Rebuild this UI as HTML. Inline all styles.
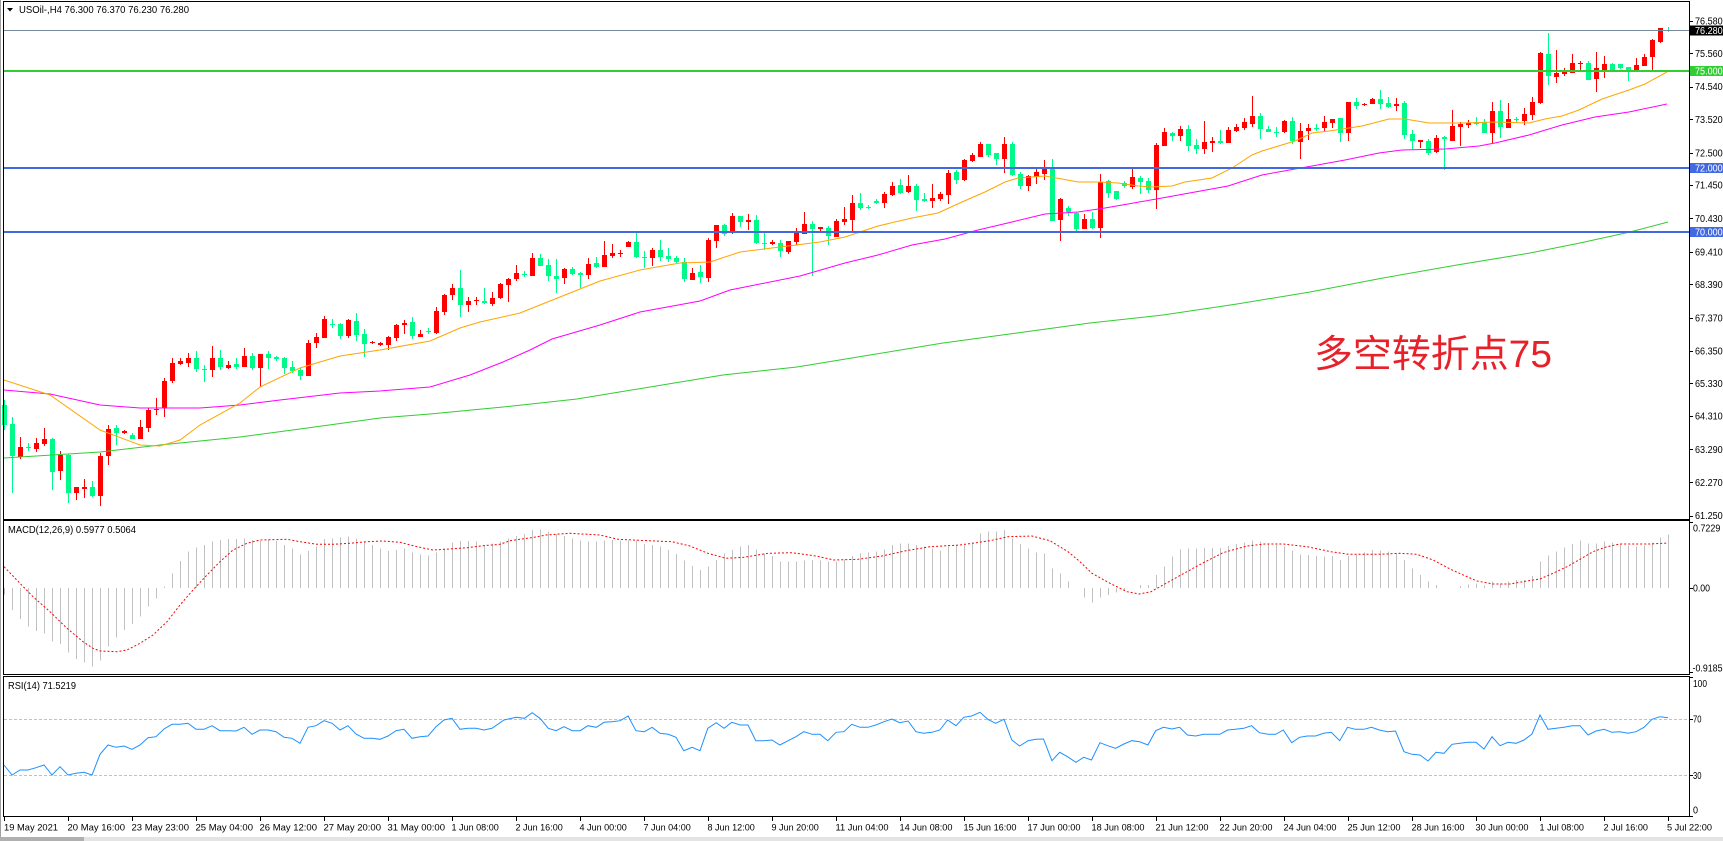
<!DOCTYPE html>
<html><head><meta charset="utf-8">
<style>
html,body{margin:0;padding:0;background:#fff;overflow:hidden;}
svg{display:block;}
text{font-family:"Liberation Sans",Arial,sans-serif;fill:#000;}
</style></head><body>
<svg id="c" width="1723" height="841" viewBox="0 0 1723 841" xmlns="http://www.w3.org/2000/svg">
<rect width="1723" height="841" fill="#fff"/>
<g id="hist" shape-rendering="crispEdges"></g>
<g id="cand" shape-rendering="crispEdges"></g>
<g id="lines"></g>
<!-- horizontal levels -->
<g shape-rendering="crispEdges">
<rect x="4" y="30" width="1685" height="1" fill="#778899"/>
<rect x="4" y="70" width="1685" height="2" fill="#32cd32"/>
<rect x="4" y="167" width="1685" height="2" fill="#4169e1"/>
<rect x="4" y="231" width="1685" height="2" fill="#4169e1"/>
<!-- frames -->
<rect x="3.5" y="1.5" width="1686" height="518" fill="none" stroke="#000"/>
<rect x="3.5" y="520.5" width="1686" height="154" fill="none" stroke="#000"/>
<rect x="3.5" y="676.5" width="1686" height="140" fill="none" stroke="#000"/>
<rect x="0" y="0" width="1" height="841" fill="#a0a0a0"/>
<rect x="0" y="837" width="1723" height="4" fill="#e4e4e4"/>
<rect x="0" y="837" width="84" height="4" fill="#b0b0b0"/>
</g>
<g id="ticks" shape-rendering="crispEdges"></g>
<!-- header -->
<polygon points="7,8 13,8 10,11.5" fill="#000"/>
<text x="19" y="13" font-size="10" textLength="170" lengthAdjust="spacingAndGlyphs">USOil-,H4  76.300 76.370 76.230 76.280</text>
<text x="8" y="533" font-size="10" textLength="128" lengthAdjust="spacingAndGlyphs">MACD(12,26,9) 0.5977 0.5064</text>
<text x="8" y="689" font-size="10" textLength="68" lengthAdjust="spacingAndGlyphs">RSI(14) 71.5219</text>
<!-- price axis -->
<g font-size="10">
<text x="1695" y="24.5" textLength="27.7" lengthAdjust="spacingAndGlyphs">76.580</text>
<text x="1695" y="57" textLength="27.7" lengthAdjust="spacingAndGlyphs">75.560</text>
<text x="1695" y="90" textLength="27.7" lengthAdjust="spacingAndGlyphs">74.540</text>
<text x="1695" y="123" textLength="27.7" lengthAdjust="spacingAndGlyphs">73.520</text>
<text x="1695" y="156.5" textLength="27.7" lengthAdjust="spacingAndGlyphs">72.500</text>
<text x="1695" y="188.5" textLength="27.7" lengthAdjust="spacingAndGlyphs">71.450</text>
<text x="1695" y="222" textLength="27.7" lengthAdjust="spacingAndGlyphs">70.430</text>
<text x="1695" y="255.5" textLength="27.7" lengthAdjust="spacingAndGlyphs">69.410</text>
<text x="1695" y="288" textLength="27.7" lengthAdjust="spacingAndGlyphs">68.390</text>
<text x="1695" y="321.5" textLength="27.7" lengthAdjust="spacingAndGlyphs">67.370</text>
<text x="1695" y="354.5" textLength="27.7" lengthAdjust="spacingAndGlyphs">66.350</text>
<text x="1695" y="387" textLength="27.7" lengthAdjust="spacingAndGlyphs">65.330</text>
<text x="1695" y="419.5" textLength="27.7" lengthAdjust="spacingAndGlyphs">64.310</text>
<text x="1695" y="453" textLength="27.7" lengthAdjust="spacingAndGlyphs">63.290</text>
<text x="1695" y="486" textLength="27.7" lengthAdjust="spacingAndGlyphs">62.270</text>
<text x="1695" y="519" textLength="27.7" lengthAdjust="spacingAndGlyphs">61.250</text>
</g>
<g shape-rendering="crispEdges">
<rect x="1690" y="25.5" width="33" height="10" fill="#000"/>
<rect x="1690" y="66" width="33" height="10" fill="#32cd32"/>
<rect x="1690" y="163" width="33" height="10" fill="#4169e1"/>
<rect x="1690" y="227" width="33" height="10" fill="#4169e1"/>
</g>
<g font-size="10">
<text x="1695" y="34" textLength="27.7" lengthAdjust="spacingAndGlyphs" style="fill:#fff">76.280</text>
<text x="1695" y="74.5" textLength="27.7" lengthAdjust="spacingAndGlyphs" style="fill:#fff">75.000</text>
<text x="1695" y="171.5" textLength="27.7" lengthAdjust="spacingAndGlyphs" style="fill:#fff">72.000</text>
<text x="1695" y="235.5" textLength="27.7" lengthAdjust="spacingAndGlyphs" style="fill:#fff">70.000</text>
</g>
<!-- indicator axes -->
<g font-size="10">
<text x="1693" y="531.5" textLength="27.3" lengthAdjust="spacingAndGlyphs">0.7229</text>
<text x="1693" y="591.5" textLength="17" lengthAdjust="spacingAndGlyphs">0.00</text>
<text x="1692.5" y="671.5" textLength="30" lengthAdjust="spacingAndGlyphs">-0.9185</text>
<text x="1693" y="687" textLength="14" lengthAdjust="spacingAndGlyphs">100</text>
<text x="1693" y="722.5" textLength="8.5" lengthAdjust="spacingAndGlyphs">70</text>
<text x="1693" y="779" textLength="8.5" lengthAdjust="spacingAndGlyphs">30</text>
<text x="1693" y="813.5" textLength="5" lengthAdjust="spacingAndGlyphs">0</text>
</g>
<!-- RSI levels -->
<line x1="4" y1="719.5" x2="1689" y2="719.5" stroke="#c0c0c0" stroke-dasharray="3,2"/>
<line x1="4" y1="775.5" x2="1689" y2="775.5" stroke="#c0c0c0" stroke-dasharray="3,2"/>
<g id="ind"></g>
<!-- time axis -->
<g font-size="9.5">
<text x="4" y="830.5" textLength="54" lengthAdjust="spacingAndGlyphs">19 May 2021</text>
<text x="67.5" y="830.5" textLength="57.5" lengthAdjust="spacingAndGlyphs">20 May 16:00</text>
<text x="131.5" y="830.5" textLength="57.5" lengthAdjust="spacingAndGlyphs">23 May 23:00</text>
<text x="195.5" y="830.5" textLength="57.5" lengthAdjust="spacingAndGlyphs">25 May 04:00</text>
<text x="259.5" y="830.5" textLength="57.5" lengthAdjust="spacingAndGlyphs">26 May 12:00</text>
<text x="323.5" y="830.5" textLength="57.5" lengthAdjust="spacingAndGlyphs">27 May 20:00</text>
<text x="387.5" y="830.5" textLength="57.5" lengthAdjust="spacingAndGlyphs">31 May 00:00</text>
<text x="451.5" y="830.5" textLength="47.3" lengthAdjust="spacingAndGlyphs">1 Jun 08:00</text>
<text x="515.5" y="830.5" textLength="47.3" lengthAdjust="spacingAndGlyphs">2 Jun 16:00</text>
<text x="579.5" y="830.5" textLength="47.3" lengthAdjust="spacingAndGlyphs">4 Jun 00:00</text>
<text x="643.5" y="830.5" textLength="47.3" lengthAdjust="spacingAndGlyphs">7 Jun 04:00</text>
<text x="707.5" y="830.5" textLength="47.3" lengthAdjust="spacingAndGlyphs">8 Jun 12:00</text>
<text x="771.5" y="830.5" textLength="47.3" lengthAdjust="spacingAndGlyphs">9 Jun 20:00</text>
<text x="835.5" y="830.5" textLength="53" lengthAdjust="spacingAndGlyphs">11 Jun 04:00</text>
<text x="899.5" y="830.5" textLength="53" lengthAdjust="spacingAndGlyphs">14 Jun 08:00</text>
<text x="963.5" y="830.5" textLength="53" lengthAdjust="spacingAndGlyphs">15 Jun 16:00</text>
<text x="1027.5" y="830.5" textLength="53" lengthAdjust="spacingAndGlyphs">17 Jun 00:00</text>
<text x="1091.5" y="830.5" textLength="53" lengthAdjust="spacingAndGlyphs">18 Jun 08:00</text>
<text x="1155.5" y="830.5" textLength="53" lengthAdjust="spacingAndGlyphs">21 Jun 12:00</text>
<text x="1219.5" y="830.5" textLength="53" lengthAdjust="spacingAndGlyphs">22 Jun 20:00</text>
<text x="1283.5" y="830.5" textLength="53" lengthAdjust="spacingAndGlyphs">24 Jun 04:00</text>
<text x="1347.5" y="830.5" textLength="53" lengthAdjust="spacingAndGlyphs">25 Jun 12:00</text>
<text x="1411.5" y="830.5" textLength="53" lengthAdjust="spacingAndGlyphs">28 Jun 16:00</text>
<text x="1475.5" y="830.5" textLength="53" lengthAdjust="spacingAndGlyphs">30 Jun 00:00</text>
<text x="1539.5" y="830.5" textLength="44.5" lengthAdjust="spacingAndGlyphs">1 Jul 08:00</text>
<text x="1603.5" y="830.5" textLength="44.5" lengthAdjust="spacingAndGlyphs">2 Jul 16:00</text>
<text x="1667" y="830.5" textLength="45" lengthAdjust="spacingAndGlyphs">5 Jul 22:00</text>
</g>
<text x="1314" y="367" font-size="38" textLength="238" lengthAdjust="spacingAndGlyphs" style="font-family:'Liberation Sans','Noto Sans CJK SC',sans-serif;fill:#e8202a">多空转折点75</text>
</svg>
<script>
(function(){
var NS="http://www.w3.org/2000/svg";
function el(t,a,p){var e=document.createElementNS(NS,t);for(var k in a)e.setAttribute(k,a[k]);p.appendChild(e);return e;}
var K=[
[1,405,425,400,430],[1,424,456,417,493],[0,447,457,437,459],[1,447,448,443,451],[0,443,449,438,452],
[0,439,444,428,446],[1,439,472,438,490],[0,455,471,451,480],[1,455,493,454,503],[0,487,493,487,500],
[0,487,489,479,498],[1,487,496,481,497],[0,456,496,453,506],[0,429,456,425,465],[1,428,433,425,445],
[0,431,433,430,434],[1,435,439,433,439],[0,427,439,420,439],[0,410,428,408,432],[0,409,410,398,415],
[0,381,408,378,417],[0,363,381,358,383],[0,361,364,358,365],[0,358,363,353,367],[1,358,369,351,372],
[1,369,370,365,382],[0,358,370,346,377],[1,358,367,350,370],[0,365,368,361,369],[1,364,367,358,369],
[0,356,367,348,367],[1,356,368,353,370],[0,354,368,354,387],[1,354,358,351,369],[1,357,359,356,361],
[1,358,368,357,374],[1,367,371,361,373],[1,370,376,368,380],[0,343,376,340,376],[0,337,343,333,348],
[0,319,338,316,338],[1,324,325,319,328],[1,324,336,323,339],[0,320,336,319,338],[1,321,335,313,341],
[1,334,344,329,357],[0,342,343,341,344],[0,343,345,342,346],[0,337,345,336,350],[0,325,338,324,341],
[0,323,325,320,334],[1,322,336,317,339],[0,334,337,330,337],[1,331,332,328,334],[0,311,333,307,334],
[0,295,312,294,315],[0,288,295,284,300],[1,288,305,270,317],[0,301,305,297,312],[0,300,301,297,305],
[1,301,303,288,304],[0,298,304,292,306],[0,284,298,283,299],[0,279,285,278,302],[0,273,279,265,281],
[1,274,275,271,277],[0,258,276,253,276],[1,258,266,254,266],[1,265,276,259,281],[1,276,279,259,293],
[0,269,278,268,284],[1,269,274,267,275],[1,273,275,272,288],[0,264,275,258,279],[1,263,267,257,268],
[0,255,267,241,267],[0,253,256,244,258],[0,253,254,250,257],[0,242,247,241,247],[1,242,257,233,258],
[1,257,258,251,268],[0,250,258,248,266],[1,250,257,240,261],[1,256,259,248,262],[1,258,262,256,263],
[1,262,279,258,282],[0,273,280,268,280],[1,272,277,265,283],[0,240,278,238,282],[0,225,241,225,248],
[1,225,234,224,236],[0,216,233,213,234],[1,216,222,216,227],[0,220,222,214,230],[1,220,243,215,244],
[1,243,244,233,250],[0,242,244,240,245],[1,243,251,240,257],[0,241,252,241,254],[0,232,242,228,245],
[0,224,234,212,234],[1,224,229,221,276],[0,227,229,227,231],[1,228,236,226,245],[0,221,237,219,237],
[0,219,222,207,225],[0,203,220,195,231],[1,203,208,193,210],[1,207,208,205,209],[1,201,203,199,204],
[0,194,203,192,208],[0,186,195,182,196],[1,185,193,179,194],[0,186,192,175,193],[1,186,200,184,211],
[1,199,201,193,202],[0,198,201,184,208],[0,194,199,192,201],[0,173,195,170,204],[1,172,180,170,184],
[0,160,180,159,181],[0,155,161,153,162],[0,144,157,142,157],[1,144,155,144,157],[1,153,159,153,165],
[0,144,159,137,173],[1,144,175,142,176],[1,174,186,172,189],[0,176,186,175,191],[0,172,177,169,184],
[0,168,174,160,180],[1,168,221,159,221],[0,199,220,198,241],[1,208,212,206,216],[1,213,229,212,231],
[0,219,229,214,229],[1,219,228,212,229],[0,182,228,174,238],[1,181,193,180,198],[1,191,199,191,200],
[1,183,186,181,188],[0,177,187,169,189],[1,178,182,176,194],[1,181,190,178,193],[0,145,190,143,209],
[0,132,146,128,146],[1,133,136,132,141],[0,129,136,126,141],[1,129,146,125,151],[1,145,149,139,154],
[0,142,149,121,154],[0,141,143,137,152],[1,141,143,130,144],[0,130,143,127,143],[0,127,131,124,132],
[0,122,128,118,130],[0,116,124,96,127],[1,116,129,113,139],[1,129,132,126,132],[1,132,133,127,137],
[0,121,132,120,133],[1,121,141,117,144],[0,131,142,123,159],[0,128,131,124,140],[1,128,129,124,131],
[0,122,128,116,132],[0,119,123,119,128],[1,118,133,118,142],[0,102,133,102,141],[1,102,106,98,109],
[0,104,105,103,106],[0,99,104,98,104],[1,99,104,90,109],[1,103,107,97,108],[0,104,106,98,111],
[1,103,135,101,139],[1,134,141,130,149],[0,140,142,140,148],[1,141,153,139,155],[0,138,152,135,153],
[1,137,139,136,170],[0,126,141,110,141],[0,124,127,122,146],[0,123,125,120,128],[1,122,124,117,125],
[1,122,133,119,133],[0,111,133,102,143],[1,111,127,100,138],[0,119,128,103,128],[1,119,120,117,122],
[0,114,121,108,125],[0,102,115,97,120],[0,53,103,52,104],[1,54,76,33,85],[0,73,77,50,83],
[0,71,74,68,76],[0,63,73,54,73],[0,63,64,61,70],[1,63,80,61,80],[0,68,79,52,92],
[0,64,71,56,78],[1,64,70,63,71],[1,64,68,64,69],[1,67,71,67,81],[0,65,71,58,71],
[0,57,66,54,66],[0,40,57,39,70],[0,28,42,28,43],[1,30,31,27,32]
];
var gc=document.getElementById('cand');
for(var i=0;i<K.length;i++){
 var d=K[i],xc=4+8*i,col=d[0]?'#00fa8a':'#ff0000';
 el('rect',{x:xc,y:d[3],width:1,height:Math.max(1,d[4]-d[3]),fill:col},gc);
 el('rect',{x:xc-2,y:d[1],width:5,height:Math.max(1,d[2]-d[1]),fill:col},gc);
}
var gl=document.getElementById('lines');
function pl(pts,col,extra,p){var a={points:pts,fill:'none',stroke:col,'stroke-width':1};for(var k in extra)a[k]=extra[k];el('polyline',a,p||gl);}
pl("4,458 100,452 160,445 240,437 300,429 380,418 430,414 503,407 577,399 650,387 723,375 797,367 870,355 943,343 1017,333 1090,323 1163,315 1237,304 1310,292 1383,278 1457,265 1530,253 1580,243 1630,232 1668,222","#32cd32");
pl("4,390 50,394 100,405 140,408 200,408 240,405 280,400 340,393 380,391 430,387 470,375 503,362 530,350 552,339 600,325 640,312 700,301 730,290 760,284 800,276 845,263 878,255 912,245 945,239 978,230 1012,222 1045,214 1078,212 1105,208 1128,204 1162,198 1195,192 1228,186 1262,175 1295,169 1312,166 1345,160 1379,153 1402,150 1445,149 1479,146 1495,143 1529,135 1562,125 1595,117 1629,112 1667,104","#ff00ff");
pl("4,380 50,395 100,430 140,445 160,446 180,440 200,425 240,403 260,387 300,368 340,356 380,350 430,341 460,328 480,322 520,313 560,297 600,281 640,270 680,263 710,262 740,252 780,247 820,242 845,237 878,226 912,218 938,213 962,202 985,192 1005,182 1018,178 1045,176 1062,179 1078,182 1098,182 1118,183 1138,186 1152,187 1172,186 1185,182 1212,178 1232,168 1252,155 1262,151 1295,141 1312,133 1329,131 1362,126 1389,119 1405,119 1429,123 1462,123 1495,122 1529,123 1545,119 1562,116 1579,110 1602,99 1629,90 1645,84 1667,72","#ffa500");
var H=[594.3,610,619,626.7,631,633.3,641.7,644,652.7,659,662.7,666.7,660.7,646.7,637.7,630,624,616.7,606.7,598.3,586.7,573.3,561,551.7,547.7,545,541.7,540,539,539,538.3,540,541,540,541,545,548.3,554.3,551,546.7,539,538.3,537.7,536.7,538.3,541.7,545,548.3,551,550,548.3,552.3,554.3,555.7,552.3,548.3,542.3,541,541,541.7,
545,543.3,541.7,538.3,536,534,530,529.3,531.7,534,536,538.3,540.7,541.7,541.7,540.7,540,540.7,540.7,540.7,544,545,546.7,550,554,560.7,566,570,566.7,560,553.3,550,546.7,545,549.3,553.3,556,561.7,561.7,561.7,560.7,560,560.7,561.7,561.7,559.3,556,553.3,552.7,551.7,549.3,545,543.3,543.3,545,546.7,548.3,550.7,546.7,545.3,545.3,543.3,533.3,531.7,531.7,530,538.3,544,548.3,552.3,553.3,568.3,573.3,581.7,588.3,597.3,602.7,597.3,595,592.7,590.7,588.3,585,585,575,566.7,556.7,549.3,548.7,548.7,548,548,548,546,544,542.7,540.7,541.7,543.3,545,546.7,550.7,554.3,555,556,556.7,556,560,556,555,552.7,550,550.7,551.7,553.3,
560,568.3,575,581.7,585,587.7,588.3,586,584.3,583.3,585.7,581.7,583.3,581.7,580,580,576,561.7,555.7,551.7,547.7,544,540.7,543.3,543.3,541.7,542.3,544.3,545.7,546.7,545.7,542.3,537.3,534.3];
var gh=document.getElementById('hist'),z=588;
for(var j=0;j<H.length;j++){var y=H[j],t=Math.min(y,z),h=Math.abs(y-z);if(h<0.5)continue;el('rect',{x:4+8*j,y:t,width:1,height:h,fill:'#c0c0c0'},gh);}
var gi=document.getElementById('ind');
pl("4,566.7 20,583.3 33,596.7 50,611.7 67,628.3 83,641.7 93,648.3 100,651 117,651.7 127,650 140,643.3 153,635 167,621.7 180,605 193,590 207,575 220,561.7 233,550 247,543.3 260,540 287,539.3 300,541.7 317,544.3 333,544.3 350,543.3 367,541.7 383,541 400,542.3 417,546.7 433,550 450,549 467,547.7 483,545.7 500,544.3 510,540.7 534,537.3 546,535 570,533.3 600,535 618,539.3 648,540.7 672,541.7 690,546 708,553.3 726,558.3 744,557.3 768,553.3 792,552.7 816,556 834,560 858,559.3 882,556 906,550.7 930,546.7 960,545 990,540.7 1008,536.7 1032,536 1050,540.7 1068,551.7 1080,561.7 1092,573.3 1110,583.3 1127,591.7 1139,594 1151,591.7 1163,585 1181,575 1199,565 1223,552.7 1247,546 1265,544 1283,544 1307,546.7 1331,551.7 1349,554.3 1379,554.3 1400,553.3 1417,554.3 1433,560 1450,569 1467,576.7 1477,581 1493,584 1510,584 1527,581 1540,579 1553,573.3 1567,566.7 1580,559.3 1593,551.7 1607,546.7 1620,544 1633,544 1650,544 1668,543","#ff0000",{'stroke-dasharray':'2,2'},gi);
var R=[765,775,770,770,767.7,765,775,766.7,775,773.3,772.3,775,754.3,745,747.3,746,749.3,745,737.7,736.7,729,724.3,724.3,723.3,729.3,729.3,725.7,730.7,730.7,731,727.3,734.3,730,730,731.7,737.3,738.3,743.3,727.3,725.7,720.7,723.3,730,725.7,734,738.3,738.3,739.3,736,730.7,729.3,738.3,736.7,736,726.7,720,718.3,729.3,728.3,728.3,730,728.3];
var rp=[];for(var r=0;r<R.length;r++)rp.push((4+8*r)+","+R[r]);
var rs=rp.join(" ")+" 504,720 516,717.3 524.4,718.3 532.2,712.7 540,718.3 548.3,728.3 556.1,730.7 563.9,726.7 572.3,730.7 580.1,730.7 587.9,725.7 596.3,727.3 604.1,722.3 611.9,721.7 620.3,720.7 628.1,716 635.9,730.7 644.3,731.7 652.1,727.3 659.9,733.3 668.2,734.3 676,737.3 683.8,750.7 692.2,747.3 700,750.7 707.8,728.3 716.2,722.7 724,728.3 731.8,722.3 740.2,725 748,725 755.8,740.7 764.2,740.7 772,740 779.8,745 788.2,740.7 796,736.7 803.7,731.7 812.1,734.3 819.9,734.3 827.7,740.7 836.1,732.3 843.9,731.7 851.7,724.3 860.1,727.3 867.9,727.3 875.7,725 884.1,721.7 891.9,719 899.7,722.7 908.1,721 915.9,731.7 923.6,733.3 932,732.3 939.8,730 947.6,720 956,725.7 963.8,717.3 971.6,716 980,712.3 987.8,719.3 995.6,723.3 1004,719.3 1011.8,740 1019.6,746 1028,740.7 1035.8,739.3 1043.5,739 1051.9,760.7 1059.7,752.3 1067.5,756.7 1075.9,762.3 1083.7,757.3 1091.5,760 1099.9,742.7 1107.7,745.7 1115.5,748.3 1123.9,744 1131.7,740.7 1139.5,741.7 1147.9,745 1155.7,730.7 1163.5,727.3 1171.9,729 1179.6,727.3 1187.4,735 1195.8,736 1203.6,734.3 1211.4,734.3 1219.8,734.3 1227.6,730 1235.4,729.3 1243.8,728.3 1251.6,725.7 1259.4,732.7 1267.8,734.3 1275.6,734.3 1283.3,730 1291.7,742.7 1299.5,737.3 1307.3,736 1315.7,736 1323.5,733.3 1331.3,732.3 1339.7,740.7 1347.5,727.3 1355.3,729.3 1363.7,729.3 1371.5,727.3 1379.3,730 1387.7,731.7 1395.5,731 1404,751.7 1412,754.3 1420,755 1428,761 1436,752.3 1444,753.3 1452,744.3 1460,743.3 1468,742.3 1476,742.3 1484,749 1492,736.7 1500,745.7 1508,742.3 1516,743.3 1524,740 1532,734 1540,715 1548,729.3 1556,728.3 1564,727.3 1572,725.7 1580,725.7 1588,735 1596,731 1604,729.3 1612,732.3 1620,731.7 1628,733.3 1636,731.7 1644,727.3 1652,719.3 1660,716.7 1668,717.7";
pl(rs,"#1e90ff",{},gi);
var gt=document.getElementById('ticks');
var py=[20.7,53.3,86.7,119.3,152.7,185,218.3,251.7,284.3,317.7,350.7,383.3,416,449.3,482.3,515.7];
for(var q=0;q<py.length;q++)el('rect',{x:1690,y:Math.round(py[q]),width:3,height:1,fill:'#000'},gt);
var iy=[522,588,672,677,719,775,816];
for(var q2=0;q2<iy.length;q2++)el('rect',{x:1690,y:iy[q2],width:3,height:1,fill:'#000'},gt);
for(var k=0;k<27;k++)el('rect',{x:4+64*k,y:817,width:1,height:4,fill:'#000'},gt);
})();
</script>
</body></html>
